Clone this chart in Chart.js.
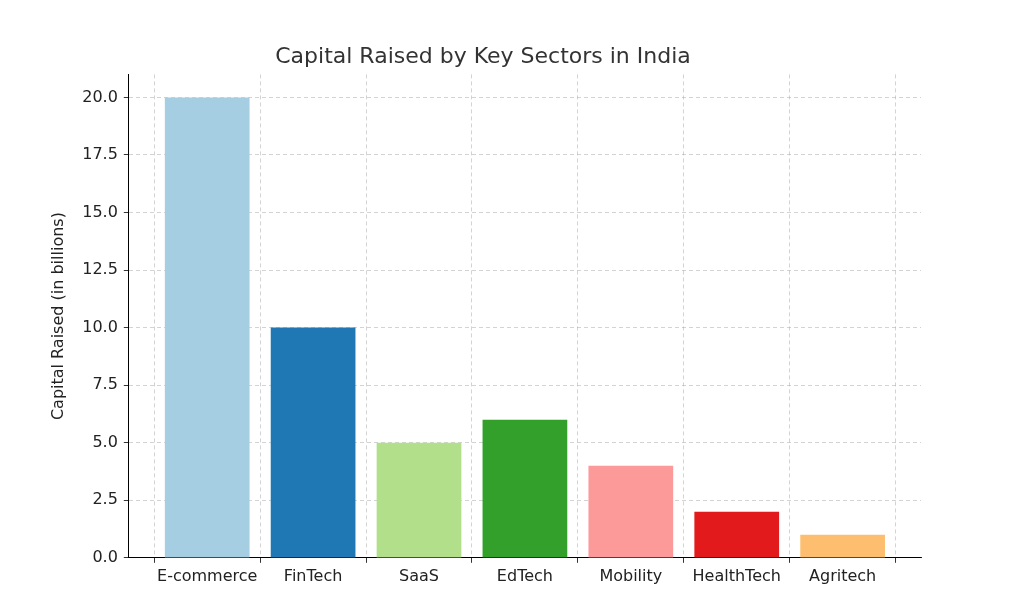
<!DOCTYPE html>
<html>
<head>
<meta charset="utf-8">
<script src="https://cdn.jsdelivr.net/npm/chart.js@4/dist/chart.umd.min.js"></script>
<style>
  html, body { margin: 0; padding: 0; background: #fff; }
  #wrap { width: 1024px; height: 614px; }
</style>
</head>
<body>
<div id="wrap"><canvas id="sector-bar-chart"></canvas></div>
<script>
const sectors = ['E-commerce', 'FinTech', 'SaaS', 'EdTech', 'Mobility', 'HealthTech', 'Agritech'];
const capitalRaised = [20, 10, 5, 6, 4, 2, 1];
const colors = ['#a6cee3', '#1f78b4', '#b2df8a', '#33a02c', '#fb9a99', '#e31a1c', '#fdbf6f'];

const font = { family: 'DejaVu Sans', size: 16 };
const gridStyle = {
  color: 'rgba(176,176,176,0.7)',
  lineWidth: 0.8,
  drawTicks: true,
  tickColor: '#000',
  tickLength: 5
};

new Chart(document.getElementById('sector-bar-chart').getContext('2d'), {
  type: 'bar',
  data: {
    datasets: [{
      label: 'Capital Raised',
      data: capitalRaised.map((v, i) => ({ x: i, y: v })),
      backgroundColor: colors,
      barPercentage: 0.8,
      categoryPercentage: 1
    }]
  },
  options: {
    responsive: true,
    maintainAspectRatio: false,
    animation: false,
    layout: { padding: { left: 45, right: 103, top: 10, bottom: 24 } },
    plugins: {
      legend: { display: false },
      tooltip: { enabled: false },
      title: {
        display: true,
        text: 'Capital Raised by Key Sectors in India',
        color: '#333',
        font: { family: 'DejaVu Sans', size: 22, weight: 'normal' },
        padding: { top: 34, bottom: 4 }
      }
    },
    scales: {
      x: {
        type: 'linear',
        z: 1,
        min: -0.74,
        max: 6.74,
        offset: false,
        afterBuildTicks: axis => {
          axis.ticks = sectors.map((s, i) => ({ value: i }));
        },
        grid: gridStyle,
        border: { display: true, color: '#000', width: 1, dash: [4, 3] },
        ticks: { color: '#222', font: font, padding: 4, autoSkip: false, maxRotation: 0, callback: v => sectors[v] }
      },
      y: {
        z: 1,
        min: 0,
        max: 21,
        afterBuildTicks: axis => {
          axis.ticks = [0, 2.5, 5, 7.5, 10, 12.5, 15, 17.5, 20].map(v => ({ value: v }));
        },
        grid: gridStyle,
        border: { display: true, color: '#000', width: 1, dash: [4, 3] },
        ticks: { color: '#222', font: font, padding: 6, callback: v => v.toFixed(1) },
        title: {
          display: true,
          text: 'Capital Raised (in billions)',
          color: '#222',
          font: font,
          padding: { bottom: 8 }
        }
      }
    }
  }
});
</script>
</body>
</html>
